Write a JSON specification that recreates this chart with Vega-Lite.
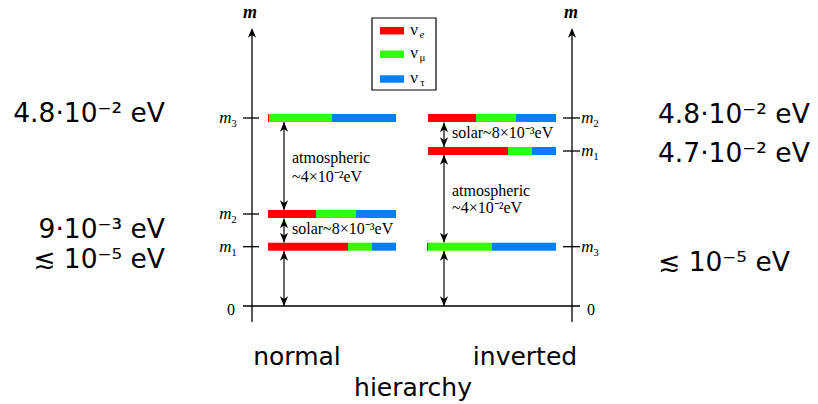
{
  "$schema": "https://vega.github.io/schema/vega-lite/v6.json",
  "width": 818,
  "height": 404,
  "autosize": {"type": "fit", "contains": "padding"},
  "padding": 0,
  "background": "white",
  "view": {"stroke": null},
  "config": {"axis": {"disable": true}, "legend": {"disable": true}},
  "datasets": {
    "lines": [
      {"x": 252, "x2": 252, "y": -16, "y2": 272},
      {"x": 572, "x2": 572, "y": -16, "y2": 272},
      {"x": 243, "x2": 580, "y": 0, "y2": 0},
      {"x": 243, "x2": 259, "y": 188, "y2": 188},
      {"x": 243, "x2": 259, "y": 92, "y2": 92},
      {"x": 243, "x2": 259, "y": 59.3, "y2": 59.3},
      {"x": 563, "x2": 580, "y": 188, "y2": 188},
      {"x": 563, "x2": 580, "y": 155, "y2": 155},
      {"x": 563, "x2": 580, "y": 59.3, "y2": 59.3}
    ],
    "arrows": [
      {"x": 284, "x2": 284, "y": 184, "y2": 96},
      {"x": 284, "x2": 284, "y": 87.5, "y2": 63.5},
      {"x": 284, "x2": 284, "y": 55, "y2": 0},
      {"x": 444, "x2": 444, "y": 183.5, "y2": 159},
      {"x": 444, "x2": 444, "y": 151, "y2": 63.5},
      {"x": 444, "x2": 444, "y": 55, "y2": 0}
    ],
    "headsUp": [
      {"x": 252, "y": 278},
      {"x": 572, "y": 278},
      {"x": 284, "y": 184},
      {"x": 284, "y": 87.5},
      {"x": 284, "y": 55},
      {"x": 444, "y": 183.5},
      {"x": 444, "y": 151},
      {"x": 444, "y": 55}
    ],
    "headsDown": [
      {"x": 284, "y": 96},
      {"x": 284, "y": 63.5},
      {"x": 284, "y": 0},
      {"x": 444, "y": 159},
      {"x": 444, "y": 63.5},
      {"x": 444, "y": 0}
    ],
    "bars": [
      {"x": 268, "x2": 269, "y": 188, "f": "e"},
      {"x": 269, "x2": 332, "y": 188, "f": "mu"},
      {"x": 332, "x2": 396, "y": 188, "f": "tau"},
      {"x": 268, "x2": 316, "y": 92, "f": "e"},
      {"x": 316, "x2": 356, "y": 92, "f": "mu"},
      {"x": 356, "x2": 396, "y": 92, "f": "tau"},
      {"x": 268, "x2": 348, "y": 59.3, "f": "e"},
      {"x": 348, "x2": 372, "y": 59.3, "f": "mu"},
      {"x": 372, "x2": 396, "y": 59.3, "f": "tau"},
      {"x": 428, "x2": 476, "y": 188, "f": "e"},
      {"x": 476, "x2": 516, "y": 188, "f": "mu"},
      {"x": 516, "x2": 556, "y": 188, "f": "tau"},
      {"x": 428, "x2": 508, "y": 155, "f": "e"},
      {"x": 508, "x2": 532, "y": 155, "f": "mu"},
      {"x": 532, "x2": 556, "y": 155, "f": "tau"},
      {"x": 427, "x2": 428, "y": 59.3, "f": "e"},
      {"x": 428, "x2": 492, "y": 59.3, "f": "mu"},
      {"x": 492, "x2": 556, "y": 59.3, "f": "tau"}
    ],
    "legendBox": [{"x": 372, "x2": 436, "y": 216, "y2": 288}],
    "legendItems": [
      {"x": 380, "x2": 404, "y": 275.3, "f": "e", "lx": 414, "s": "e", "it": true},
      {"x": 380, "x2": 404, "y": 251.7, "f": "mu", "lx": 414, "s": "μ", "it": false},
      {"x": 380, "x2": 404, "y": 227, "f": "tau", "lx": 414, "s": "τ", "it": false}
    ],
    "serifText": [
      {"x": 292, "y": 142.7, "t": "atmospheric"},
      {"x": 292, "y": 124.3, "t": "~4×10⁻²eV"},
      {"x": 292, "y": 71.7, "t": "solar~8×10⁻³eV"},
      {"x": 452, "y": 167.7, "t": "solar~8×10⁻³eV"},
      {"x": 452, "y": 110.3, "t": "atmospheric"},
      {"x": 452, "y": 92.7, "t": "~4×10⁻²eV"}
    ],
    "mLabels": [
      {"x": 225.5, "y": 188, "s": "3"},
      {"x": 225.5, "y": 92, "s": "2"},
      {"x": 225.5, "y": 59.3, "s": "1"},
      {"x": 587.5, "y": 188, "s": "2"},
      {"x": 587.5, "y": 155, "s": "1"},
      {"x": 587.5, "y": 59.3, "s": "3"}
    ],
    "zeros": [{"x": 231, "y": -9, "t": "0"}, {"x": 591, "y": -9, "t": "0"}],
    "axisTitles": [{"x": 250, "y": 287.7, "t": "m"}, {"x": 571, "y": 287.7, "t": "m"}],
    "bigLeft": [
      {"x": 165, "y": 184, "t": "4.8·10⁻² eV"},
      {"x": 165, "y": 68, "t": "9·10⁻³ eV"},
      {"x": 165, "y": 38, "t": "≲ 10⁻⁵ eV"}
    ],
    "bigRight": [
      {"x": 658, "y": 183, "t": "4.8·10⁻² eV"},
      {"x": 658, "y": 144, "t": "4.7·10⁻² eV"},
      {"x": 658, "y": 35, "t": "≲ 10⁻⁵ eV"}
    ],
    "bottom": [
      {"x": 297, "y": -59, "t": "normal"},
      {"x": 525, "y": -59, "t": "inverted"},
      {"x": 413, "y": -90, "t": "hierarchy"}
    ]
  },
  "encoding": {
    "x": {"field": "x", "type": "quantitative", "scale": {"domain": [0, 818], "nice": false, "zero": false}},
    "y": {"field": "y", "type": "quantitative", "scale": {"domain": [-98, 306], "nice": false, "zero": false}}
  },
  "layer": [
    {
      "data": {"name": "legendBox"},
      "mark": {"type": "rect", "fill": "white", "stroke": "black", "strokeWidth": 1.2},
      "encoding": {"x2": {"field": "x2"}, "y2": {"field": "y2"}}
    },
    {
      "data": {"name": "lines"},
      "mark": {"type": "rule", "color": "black", "strokeWidth": 1.3},
      "encoding": {"x2": {"field": "x2"}, "y2": {"field": "y2"}}
    },
    {
      "data": {"name": "bars"},
      "mark": {"type": "rule", "strokeWidth": 8, "strokeCap": "butt"},
      "encoding": {
        "x2": {"field": "x2"},
        "color": {"field": "f", "type": "nominal", "scale": {"domain": ["e", "mu", "tau"], "range": ["#ff0000", "#33ff00", "#0080ff"]}}
      }
    },
    {
      "data": {"name": "legendItems"},
      "mark": {"type": "rule", "strokeWidth": 7.5, "strokeCap": "butt"},
      "encoding": {
        "x2": {"field": "x2"},
        "color": {"field": "f", "type": "nominal", "scale": {"domain": ["e", "mu", "tau"], "range": ["#ff0000", "#33ff00", "#0080ff"]}}
      }
    },
    {
      "data": {"name": "arrows"},
      "mark": {"type": "rule", "color": "black", "strokeWidth": 1.2},
      "encoding": {"x2": {"field": "x2"}, "y2": {"field": "y2"}}
    },
    {
      "data": {"name": "headsUp"},
      "mark": {"type": "point", "filled": true, "color": "black", "opacity": 1, "size": 55, "shape": "M0,0L1.1,2.6L0,1.9L-1.1,2.6Z"},
      "encoding": {}
    },
    {
      "data": {"name": "headsDown"},
      "mark": {"type": "point", "filled": true, "color": "black", "opacity": 1, "size": 55, "shape": "M0,0L1.1,-2.6L0,-1.9L-1.1,-2.6Z"},
      "encoding": {}
    },
    {
      "data": {"name": "legendItems"},
      "mark": {"type": "text", "font": "Liberation Serif", "fontSize": 17, "align": "center", "baseline": "alphabetic", "dy": 4},
      "encoding": {"x": {"field": "lx", "type": "quantitative"}, "text": {"value": "ν"}}
    },
    {
      "data": {"name": "legendItems"},
      "transform": [{"filter": "datum.it"}],
      "mark": {"type": "text", "font": "Liberation Serif", "fontSize": 11, "fontStyle": "italic", "align": "center", "baseline": "alphabetic", "dx": 8, "dy": 7},
      "encoding": {"x": {"field": "lx", "type": "quantitative"}, "text": {"field": "s"}}
    },
    {
      "data": {"name": "legendItems"},
      "transform": [{"filter": "!datum.it"}],
      "mark": {"type": "text", "font": "Liberation Serif", "fontSize": 11, "align": "center", "baseline": "alphabetic", "dx": 8.5, "dy": 6.5},
      "encoding": {"x": {"field": "lx", "type": "quantitative"}, "text": {"field": "s"}}
    },
    {
      "data": {"name": "serifText"},
      "mark": {"type": "text", "font": "Liberation Serif", "fontSize": 16, "align": "left", "baseline": "alphabetic"},
      "encoding": {"text": {"field": "t"}}
    },
    {
      "data": {"name": "mLabels"},
      "mark": {"type": "text", "font": "Liberation Serif", "fontSize": 17, "fontStyle": "italic", "align": "center", "baseline": "alphabetic", "dy": 5},
      "encoding": {"text": {"value": "m"}}
    },
    {
      "data": {"name": "mLabels"},
      "mark": {"type": "text", "font": "Liberation Serif", "fontSize": 11, "align": "center", "baseline": "alphabetic", "dx": 8.5, "dy": 9},
      "encoding": {"text": {"field": "s"}}
    },
    {
      "data": {"name": "zeros"},
      "mark": {"type": "text", "font": "Liberation Serif", "fontSize": 16, "align": "center", "baseline": "alphabetic"},
      "encoding": {"text": {"field": "t"}}
    },
    {
      "data": {"name": "axisTitles"},
      "mark": {"type": "text", "font": "Liberation Serif", "fontSize": 18, "fontStyle": "italic", "fontWeight": "bold", "align": "center", "baseline": "alphabetic"},
      "encoding": {"text": {"field": "t"}}
    },
    {
      "data": {"name": "bigLeft"},
      "mark": {"type": "text", "font": "DejaVu Sans", "fontSize": 26.5, "align": "right", "baseline": "alphabetic"},
      "encoding": {"text": {"field": "t"}}
    },
    {
      "data": {"name": "bigRight"},
      "mark": {"type": "text", "font": "DejaVu Sans", "fontSize": 26.5, "align": "left", "baseline": "alphabetic"},
      "encoding": {"text": {"field": "t"}}
    },
    {
      "data": {"name": "bottom"},
      "mark": {"type": "text", "font": "DejaVu Sans", "fontSize": 25, "align": "center", "baseline": "alphabetic"},
      "encoding": {"text": {"field": "t"}}
    }
  ]
}
